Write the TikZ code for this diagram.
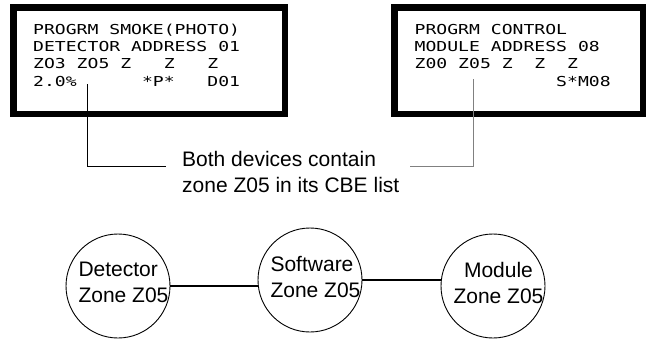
\documentclass[tikz,border=0pt]{standalone}
\usepackage{fontspec}
\setmainfont{Liberation Sans}
\newfontfamily\lcdfont[FakeStretch=1.32]{DejaVu Sans Mono}
\tikzset{
  panel/.style={draw=black,line width=6.5pt,minimum height=106.5pt,inner sep=0pt},
  lcd/.style={anchor=base west,inner sep=0pt,font=\lcdfont\fontsize{13.7}{17}\selectfont},
  remark/.style={align=left,inner sep=0pt,font=\fontsize{21}{26}\selectfont},
  zone/.style={draw=black,circle,line width=0.9pt,minimum size=104pt,inner sep=0pt},
  zlabel/.style={align=left,inner sep=0pt,xshift=5.5pt,yshift=3.5pt,
                 font=\fontsize{21}{26}\selectfont},
  lead/.style={line width=0.8pt},
  link/.style={line width=1.8pt}
}

\begin{document}
\begin{tikzpicture}[x=1pt,y=-1pt]
  \useasboundingbox (0,0) rectangle (649,341);

  % the two display panels
  \node[panel,minimum width=271.5pt] (detpanel) at (149,60.5) {};
  \node[panel,minimum width=248.5pt] (modpanel) at (518.5,60.5) {};
  \foreach \txt [count=\row] in {PROGRM SMOKE(PHOTO),DETECTOR ADDRESS 01,ZO3 ZO5 Z~~~Z~~~Z,2.0\%~~~~~~*P*~~~D01} {
    \node[lcd] (det\row) at (33,{17.3+17.2*\row}) {\txt};
  }
  \foreach \txt [count=\row] in {PROGRM CONTROL,MODULE ADDRESS 08,Z00 Z05 Z~~Z~~Z,~~~~~~~~~~~~~S*M08} {
    \node[lcd] (mod\row) at (414.5,{17.3+17.2*\row}) {\txt};
  }

  % leads to the note
  \node[remark,anchor=west] (cbenote) at (182,171.5) {Both devices contain\\zone Z05 in its CBE list};
  \coordinate (detz05) at (87,84);
  \coordinate (detend) at (166,166);
  \draw[lead] (detz05) |- (detend);
  \coordinate (modz05) at (473,79);
  \coordinate (modend) at (410,166);
  \draw[lead,draw=gray] (modz05) |- (modend);

  % zones
  \node[zone] (detzone) at (118,286) {};
  \node[zlabel] (detlabel) at (detzone) {Detector\\Zone Z05};
  \node[zone] (swzone) at (310,280) {};
  \node[zlabel] (swlabel) at (swzone) {Software\\Zone Z05};
  \node[zone] (modzone) at (493,286) {};
  \node[zlabel,align=center] (modlabel) at (modzone) {Module\\Zone Z05};
  \draw[link] (detzone.east) -- (detzone.east -| swzone.west);
  \draw[link] (swzone.east) -- (swzone.east -| modzone.west);
\end{tikzpicture}
\end{document}
